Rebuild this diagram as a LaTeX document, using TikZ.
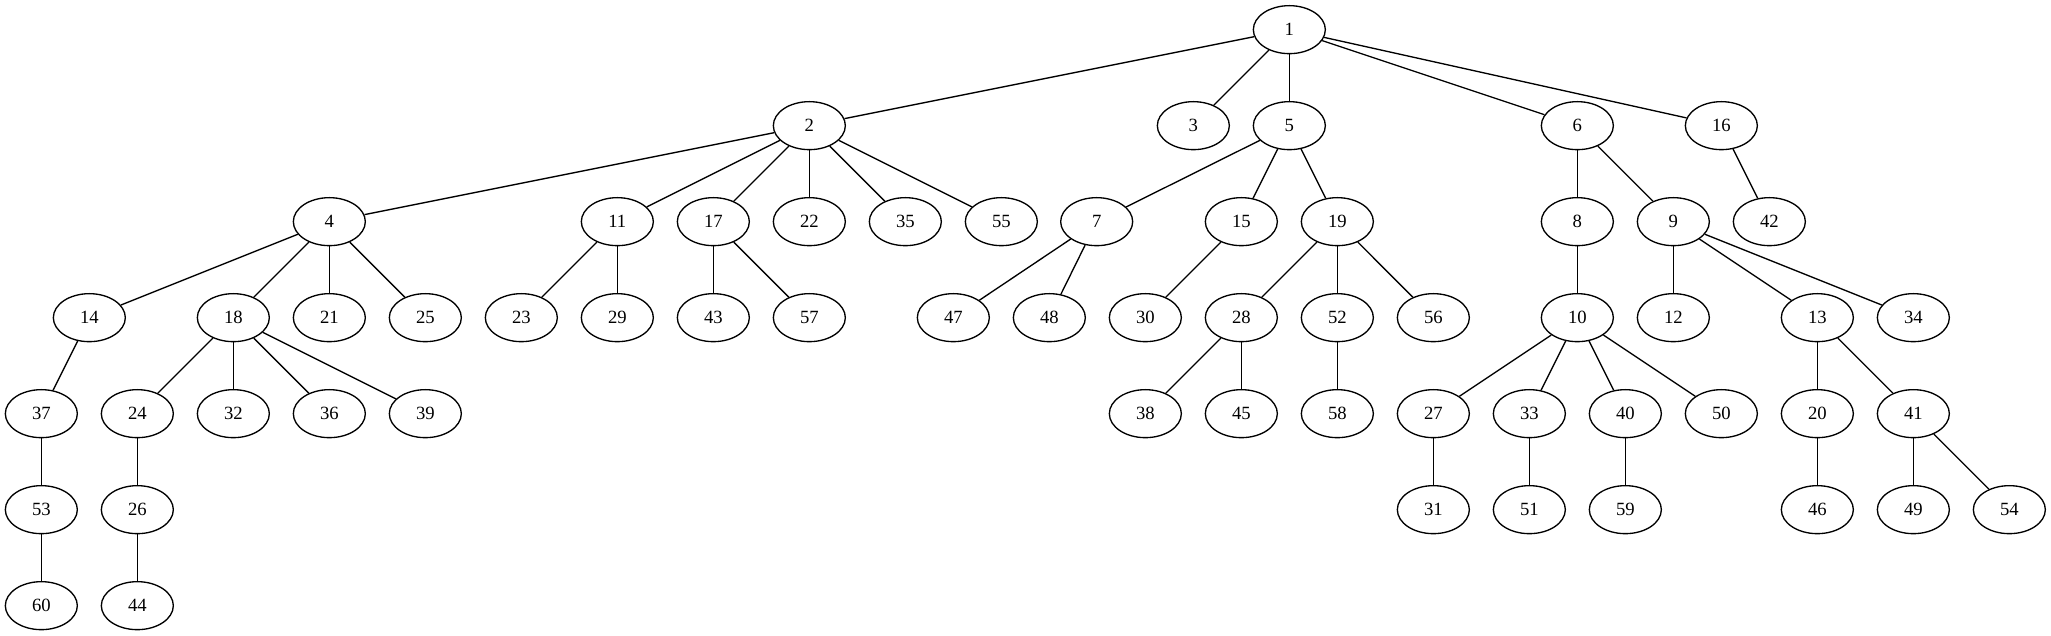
\documentclass[tikz,border=0pt]{standalone}
\usepackage{fontspec}
\setmainfont{Liberation Serif}
\usetikzlibrary{shapes.geometric}
\tikzset{nd/.style={draw,ellipse,minimum width=54pt,minimum height=36pt,inner sep=0pt,font=\fontsize{14pt}{16pt}\selectfont}}
\begin{document}
\begin{tikzpicture}[x=1pt,y=1pt,line width=1pt]
\useasboundingbox (0,0) rectangle (1538.25,476.25);
% rank 0
\node[nd] (n1) at (967,454) {1};
% rank 1
\node[nd] (n2) at (607,382) {2};
\node[nd] (n3) at (895,382) {3};
\node[nd] (n5) at (967,382) {5};
\node[nd] (n6) at (1183,382) {6};
\node[nd] (n16) at (1291,382) {16};
% rank 2
\node[nd] (n4) at (247,310) {4};
\node[nd] (n11) at (463,310) {11};
\node[nd] (n17) at (535,310) {17};
\node[nd] (n22) at (607,310) {22};
\node[nd] (n35) at (679,310) {35};
\node[nd] (n55) at (751,310) {55};
\node[nd] (n7) at (822.5,310) {7};
\node[nd] (n15) at (931,310) {15};
\node[nd] (n19) at (1003,310) {19};
\node[nd] (n8) at (1183,310) {8};
\node[nd] (n9) at (1255,310) {9};
\node[nd] (n42) at (1327,310) {42};
% rank 3
\node[nd] (n14) at (67,238) {14};
\node[nd] (n18) at (175,238) {18};
\node[nd] (n21) at (247,238) {21};
\node[nd] (n25) at (319,238) {25};
\node[nd] (n23) at (391,238) {23};
\node[nd] (n29) at (463,238) {29};
\node[nd] (n43) at (535,238) {43};
\node[nd] (n57) at (607,238) {57};
\node[nd] (n47) at (715,238) {47};
\node[nd] (n48) at (787,238) {48};
\node[nd] (n30) at (859,238) {30};
\node[nd] (n28) at (931,238) {28};
\node[nd] (n52) at (1003,238) {52};
\node[nd] (n56) at (1075,238) {56};
\node[nd] (n10) at (1183,238) {10};
\node[nd] (n12) at (1255,238) {12};
\node[nd] (n13) at (1363,238) {13};
\node[nd] (n34) at (1435,238) {34};
% rank 4
\node[nd] (n37) at (31,166) {37};
\node[nd] (n24) at (103,166) {24};
\node[nd] (n32) at (175,166) {32};
\node[nd] (n36) at (247,166) {36};
\node[nd] (n39) at (319,166) {39};
\node[nd] (n38) at (859,166) {38};
\node[nd] (n45) at (931,166) {45};
\node[nd] (n58) at (1003,166) {58};
\node[nd] (n27) at (1075,166) {27};
\node[nd] (n33) at (1147,166) {33};
\node[nd] (n40) at (1219,166) {40};
\node[nd] (n50) at (1291,166) {50};
\node[nd] (n20) at (1363,166) {20};
\node[nd] (n41) at (1435,166) {41};
% rank 5
\node[nd] (n53) at (31,94) {53};
\node[nd] (n26) at (103,94) {26};
\node[nd] (n31) at (1075,94) {31};
\node[nd] (n51) at (1147,94) {51};
\node[nd] (n59) at (1219,94) {59};
\node[nd] (n46) at (1363,94) {46};
\node[nd] (n49) at (1435,94) {49};
\node[nd] (n54) at (1507,94) {54};
% rank 6
\node[nd] (n60) at (31,22) {60};
\node[nd] (n44) at (103,22) {44};
% edges
\foreach \a/\b in {1/2,1/3,1/5,1/6,1/16,
    2/4,2/11,2/17,2/22,2/35,2/55,5/7,5/15,5/19,6/8,6/9,16/42,
    4/14,4/18,4/21,4/25,11/23,11/29,17/43,17/57,7/47,7/48,15/30,
    19/28,19/52,19/56,8/10,9/12,9/13,9/34,
    14/37,18/24,18/32,18/36,18/39,28/38,28/45,52/58,
    10/27,10/33,10/40,10/50,13/20,13/41,
    37/53,24/26,27/31,33/51,40/59,20/46,41/49,41/54,
    53/60,26/44}
  \draw (n\a) -- (n\b);
\end{tikzpicture}
\end{document}
